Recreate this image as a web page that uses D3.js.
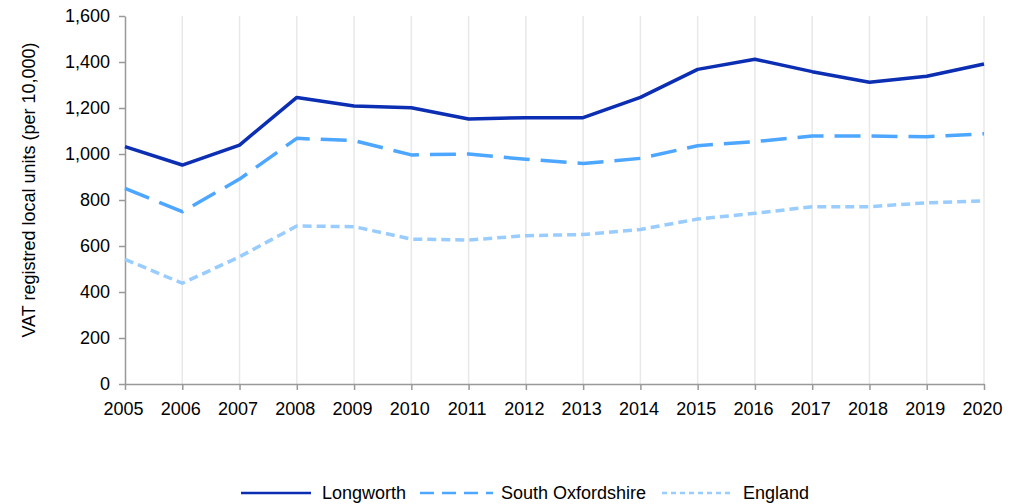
<!DOCTYPE html>
<html><head><meta charset="utf-8">
<script src="https://cdn.jsdelivr.net/npm/d3@7"></script>
<style>body{margin:0;background:#fff;} text{font-family:"Liberation Sans",Arial,sans-serif;}</style>
</head><body>
<svg id="c" width="1025" height="504"></svg>
<script>
const years = [2005,2006,2007,2008,2009,2010,2011,2012,2013,2014,2015,2016,2017,2018,2019,2020];
const longworth = [1032,952,1039,1246,1209,1201,1152,1158,1158,1246,1368,1412,1358,1312,1338,1391];
const southOxfordshire = [851,749,891,1068,1058,996,1000,977,959,981,1036,1054,1078,1078,1075,1088];
const england = [542,438,553,687,684,630,626,645,650,672,717,742,771,771,788,796];
const yTicks = [0,200,400,600,800,1000,1200,1400,1600];
const seriesNames = ["Longworth","South Oxfordshire","England"];
const colors = ["#0b2eb3","#4da6ff","#99ccff"];
const dashes = [null,"26,11","9,5"];
const yLabel = "VAT registred local units (per 10,000)";

const svg = d3.select("#c");
const m = {l:125, r:984, t:16, b:384};
const x = d3.scaleLinear().domain([2005,2020]).range([m.l,m.r]);
const y = d3.scaleLinear().domain([0,1600]).range([m.b,m.t]);

// vertical gridlines
svg.append("g").selectAll("line").data(years.slice(1)).join("line")
  .attr("x1",d=>x(d)).attr("x2",d=>x(d)).attr("y1",m.t).attr("y2",m.b)
  .attr("stroke","#e8e8e8").attr("stroke-width",1.5);

const xAxis = svg.append("g").attr("transform",`translate(0,${m.b})`)
  .call(d3.axisBottom(x).tickValues(years).tickFormat(d3.format("d")).tickSize(6).tickSizeOuter(0));
const yAxis = svg.append("g").attr("transform",`translate(${m.l},0)`)
  .call(d3.axisLeft(y).tickValues(yTicks).tickFormat(d3.format(",")).tickSize(6).tickSizeOuter(0));
[xAxis,yAxis].forEach(a=>{
  a.selectAll("path,line").attr("stroke","#999").attr("stroke-width",1.5);
  a.selectAll("text").attr("fill","#000").style("font-size","18px");
});
xAxis.selectAll("text").attr("dy","1.22em").attr("dx","-2");
yAxis.selectAll("text").attr("x",-15);

const line = d3.line().x((d,i)=>x(years[i])).y(d=>y(d));
[england,southOxfordshire,longworth].forEach((s,j)=>{
  const i = 2-j;
  const p = svg.append("path").datum(s).attr("d",line).attr("fill","none")
    .attr("stroke",colors[i]).attr("stroke-width",3.5).attr("stroke-linejoin","round");
  if(dashes[i]) p.attr("stroke-dasharray",dashes[i]);
});

svg.append("text").attr("transform","translate(35,190) rotate(-90)")
  .attr("text-anchor","middle").style("font-size","18px").text(yLabel);

// legend
const leg = [{x1:241,x2:311,tx:322},{x1:420,x2:493,tx:501},{x1:662,x2:731,tx:743}];
const legDash = [null,"14,8","5,4"];
const ly = 493;
leg.forEach((l,i)=>{
  const ln = svg.append("line").attr("x1",l.x1).attr("x2",l.x2).attr("y1",ly).attr("y2",ly)
    .attr("stroke",colors[i]).attr("stroke-width",2.5);
  if(legDash[i]) ln.attr("stroke-dasharray",legDash[i]);
  svg.append("text").attr("x",l.tx).attr("y",ly).attr("dy","0.35em").style("font-size","18px").text(seriesNames[i]);
});
</script>
</body></html>
